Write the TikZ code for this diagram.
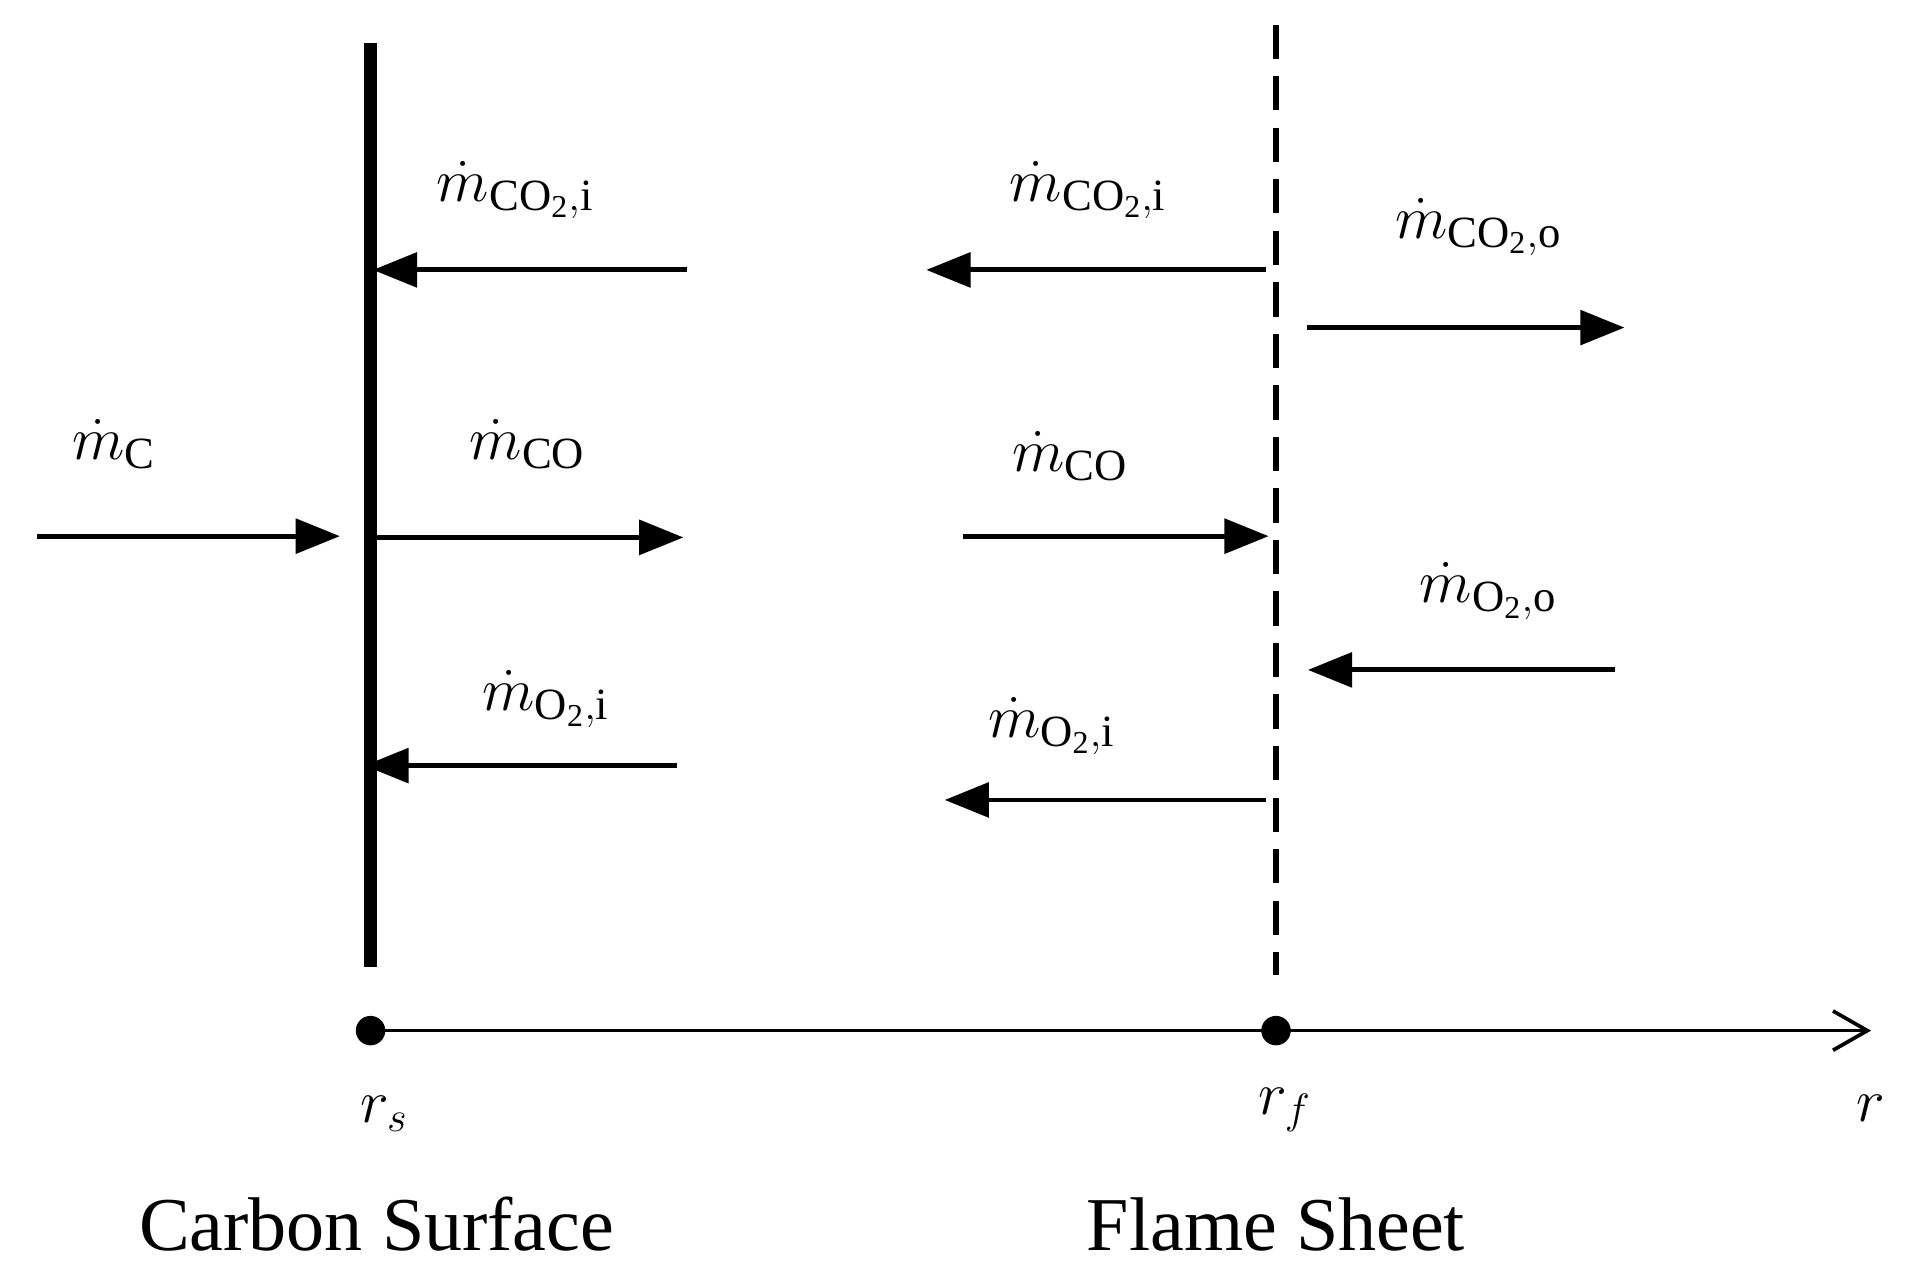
\documentclass[tikz,border=0pt]{standalone}
\usepackage{fontspec}
\setmainfont{Liberation Serif}
\usetikzlibrary{arrows.meta}
\begin{document}
\begin{tikzpicture}[x=0.5pt,y=-0.5pt,
  flow/.style={line width=2pt,-{Triangle[length=18pt,width=14pt]}},
  lab/.style={font=\fontsize{26}{30}\selectfont},
  big/.style={font=\fontsize{27}{32}\selectfont},
  captxt/.style={font=\fontsize{31}{36}\selectfont}]
\useasboundingbox (0,0) rectangle (1560,1038);
\draw[line width=5pt] (302,35) -- (302,788);
\draw[line width=2.5pt,dash pattern=on 14pt off 7pt] (1040,20) -- (1040,795);
\coordinate (rs) at (302,840); \coordinate (rf) at (1040,840); \coordinate (re) at (1525,840);
\fill (rs) circle (6pt); \fill (rf) circle (6pt);
\draw[line width=1.5pt,-{Straight Barb[length=14pt,width=16pt,line width=1.5pt]}] (rs) -- (re);
\node[big] (ls) at (313,908) {$r_s$};
\node[big] (lf) at (1047,905) {$r_f$};
\node[big] (lr) at (1525,903) {$r$};
\node[captxt] (cs) at (307,998) {Carbon Surface};
\node[captxt] (fs) at (1040,998) {Flame Sheet};
% arrows
\coordinate (a1) at (30,437); \coordinate (a2) at (277,437);
\draw[flow] (a1) -- (a2); \node[lab] (l1) at (93,362) {$\dot m_{\mathrm{C}}$};
\coordinate (b1) at (560,220); \coordinate (b2) at (304,220);
\draw[flow] (b1) -- (b2); \node[lab] (l2) at (420,155) {$\dot m_{\mathrm{CO_2,i}}$};
\coordinate (c1) at (304,438); \coordinate (c2) at (557,438);
\draw[flow] (c1) -- (c2); \node[lab] (l3) at (430,362) {$\dot m_{\mathrm{CO}}$};
\coordinate (d1) at (552,624); \coordinate (d2) at (297,624);
\draw[flow] (d1) -- (d2); \node[lab] (l4) at (445,570) {$\dot m_{\mathrm{O_2,i}}$};
\coordinate (e1) at (1032,220); \coordinate (e2) at (755,220);
\draw[flow] (e1) -- (e2); \node[lab] (l5) at (887,155) {$\dot m_{\mathrm{CO_2,i}}$};
\coordinate (f1) at (785,437); \coordinate (f2) at (1034,437);
\draw[flow] (f1) -- (f2); \node[lab] (l6) at (872,372) {$\dot m_{\mathrm{CO}}$};
\coordinate (g1) at (1032,652); \coordinate (g2) at (770,652);
\draw[flow] (g1) -- (g2); \node[lab] (l7) at (857,592) {$\dot m_{\mathrm{O_2,i}}$};
\coordinate (h1) at (1065,267); \coordinate (h2) at (1324,267);
\draw[flow] (h1) -- (h2); \node[lab] (l8) at (1205,185) {$\dot m_{\mathrm{CO_2,o}}$};
\coordinate (k1) at (1316,546); \coordinate (k2) at (1066,546);
\draw[flow] (k1) -- (k2); \node[lab] (l9) at (1213,482) {$\dot m_{\mathrm{O_2,o}}$};
\end{tikzpicture}
\end{document}
